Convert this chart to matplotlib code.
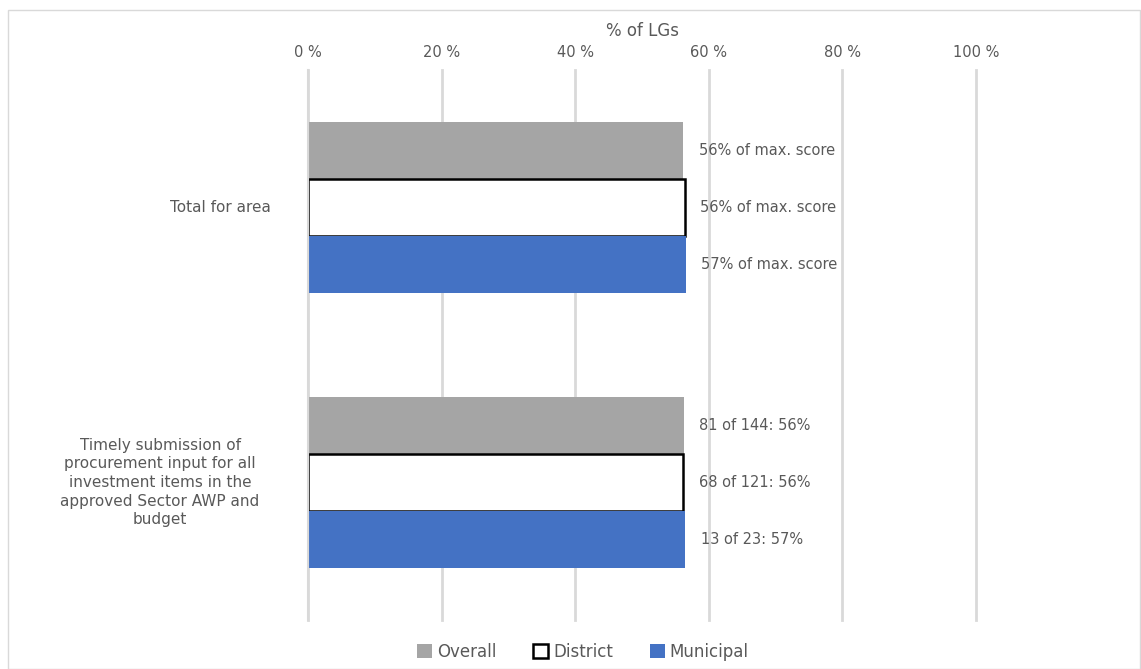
import matplotlib.pyplot as plt
import numpy as np
from matplotlib.patches import Patch, Rectangle
from matplotlib.transforms import blended_transform_factory

# chart data
categories = ['Total for area',
              'Timely submission of\nprocurement input for all\ninvestment items in the\napproved Sector AWP and\nbudget']
series = ['Overall', 'District', 'Municipal']
overall = [0.562, 0.5625]
district = [0.564, 0.562]
municipal = [0.566, 0.565]
labels_overall = ['56% of max. score', '81 of 144: 56%']
labels_district = ['56% of max. score', '68 of 121: 56%']
labels_municipal = ['57% of max. score', '13 of 23: 57%']
xticks = [0, 0.2, 0.4, 0.6, 0.8, 1.0]
xtick_labels = ['0 %', '20 %', '40 %', '60 %', '80 %', '100 %']

plt.rcParams['font.family'] = ['DejaVu Sans']
txt = '#595959'

fig = plt.figure(figsize=(11.41, 6.69), dpi=100)
fig.patches.append(Rectangle((0.007, 0.0), 0.992, 0.985, transform=fig.transFigure,
                             fill=False, edgecolor='#d9d9d9', linewidth=1))
ax = fig.add_axes([308 / 1141, 1 - 620 / 669, 668 / 1141, 550 / 669])

y = np.arange(len(categories))
h = 0.208
ax.barh(y - h, overall, height=h, color='#a5a5a5')
ax.barh(y, district, height=h, color='white', edgecolor='black', linewidth=1.8)
ax.barh(y + h, municipal, height=h, color='#4472c4')

for vals, labs, off in [(overall, labels_overall, -h), (district, labels_district, 0),
                        (municipal, labels_municipal, h)]:
    for i, (v, lab) in enumerate(zip(vals, labs)):
        ax.annotate(lab, (v, y[i] + off), xytext=(11, 0), textcoords='offset points',
                    va='center', ha='left', fontsize=10.5, color=txt)

ax.set_ylim(1.5, -0.5)
ax.set_xlim(0, 1.0)
ax.set_yticks([])
ax.xaxis.tick_top()
ax.xaxis.set_label_position('top')
ax.set_xticks(xticks)
ax.set_xticklabels(xtick_labels, fontsize=10.5, color=txt)
ax.tick_params(axis='x', length=0, pad=7)
ax.set_xlabel('% of LGs', fontsize=12, color=txt, labelpad=7)
ax.grid(axis='x', color='#d9d9d9', linewidth=2)
for gl in ax.get_xgridlines():
    gl.set_clip_on(False)
ax.set_axisbelow(True)
for s in ['top', 'right', 'bottom']:
    ax.spines[s].set_visible(False)
ax.spines['left'].set_color('#d9d9d9')
ax.spines['left'].set_linewidth(1.5)

# category labels, centred to the left of the plot
label_x = [220, 160]
tr = blended_transform_factory(fig.transFigure, ax.transData)
for i, c in enumerate(categories):
    ax.text(label_x[i] / 1141, y[i], c, transform=tr, ha='center', va='center',
            multialignment='center', fontsize=11, color=txt, linespacing=1.3)

handles = [Patch(facecolor='#a5a5a5'),
           Patch(facecolor='white', edgecolor='black', linewidth=1.8),
           Patch(facecolor='#4472c4')]
fig.legend(handles, series, loc='center', bbox_to_anchor=(583 / 1141, 1 - 652 / 669),
           ncol=3, frameon=False, fontsize=12, labelcolor=txt, handlelength=0.9,
           handleheight=0.9, handletextpad=0.3, columnspacing=2.2)

fig.savefig('out.png', dpi=100)
